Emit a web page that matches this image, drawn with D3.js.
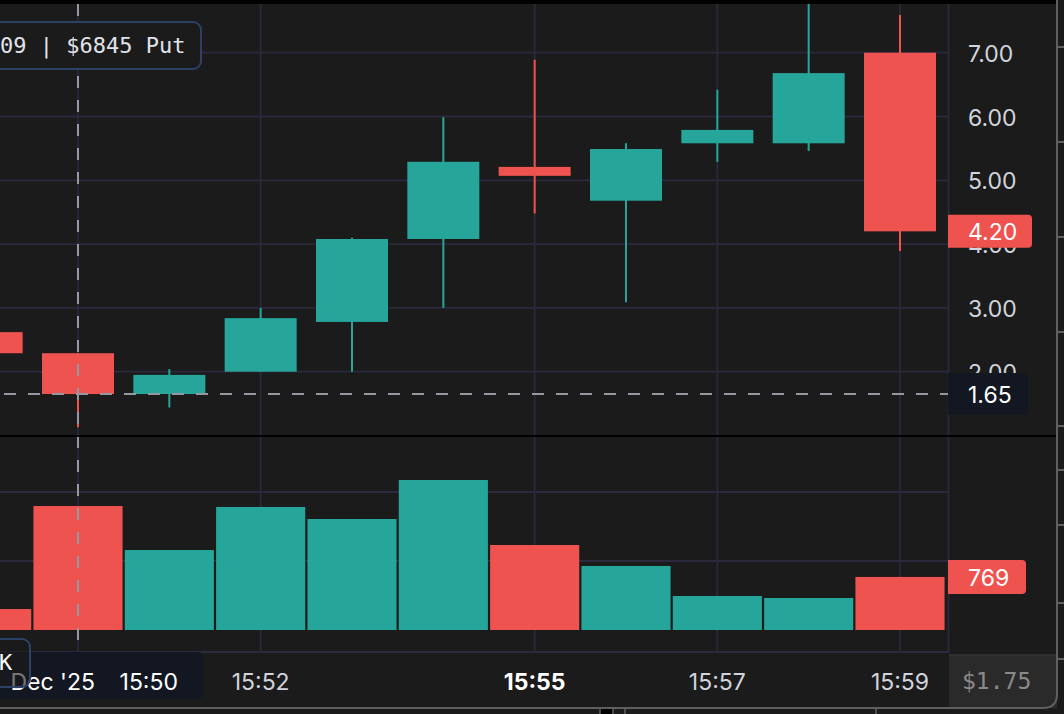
<!DOCTYPE html>
<html>
<head>
<meta charset="utf-8">
<script src="https://cdn.jsdelivr.net/npm/d3@7"></script>
<style>
  html, body { margin: 0; padding: 0; background: #1b1b1b; }
  svg { display: block; }
</style>
</head>
<body>
<svg id="chart" width="1064" height="714"></svg>
<script>
// ---------------- DATA ----------------
const times   = ["15:49","15:50","15:51","15:52","15:53","15:54","15:55","15:56","15:57","15:58","15:59"];
const opens   = [2.62, 2.29, 1.65, 2.00, 2.78, 4.08, 5.21, 4.68, 5.58, 5.58, 7.00];
const highs   = [2.70, 2.29, 2.04, 3.00, 4.10, 5.99, 6.89, 5.58, 6.42, 7.80, 7.59];
const lows    = [2.20, 1.13, 1.44, 2.00, 2.00, 3.00, 4.48, 3.09, 5.29, 5.46, 3.89];
const closes  = [2.29, 1.65, 1.95, 2.84, 4.08, 5.29, 5.07, 5.49, 5.79, 6.68, 4.20];
const volumes = [304, 1797, 1159, 1783, 1609, 2174, 1232, 928, 493, 464, 769];

const priceTicks  = [2, 3, 4, 5, 6, 7];
const volumeTicks = [1000, 2000];
const timeTicks   = ["15:50","15:52","15:55","15:57","15:59"];
const boldTimeTick = "15:55";

const crosshairTime  = "15:50";
const crosshairPrice = 1.65;
const lastPriceLabel = "4.20";
const lastVolumeLabel = "769";
const legendText = "09 | $6845 Put";
const crosshairDate = "Dec '25";
const cornerText = "$1.75";

// ---------------- SETUP ----------------
const UP = "#26a69a", DOWN = "#ef5350";
const GRID = "#2a293d";
const BG = "#1b1b1b";
const AXIS_TXT = "#d1d4dc";
const SANS = "Inter, Roboto, 'Noto Sans', sans-serif";
const MONO = "'DejaVu Sans Mono', 'Liberation Mono', monospace";

const parse = d3.timeParse("%H:%M");
const data = times.map((t, i) => ({
  t: parse(t), o: opens[i], h: highs[i], l: lows[i], c: closes[i], v: volumes[i]
}));

const plotRight = 948;
const priceTop = 4, priceBottom = 435;
const volTop = 437, volBottom = 652;

const x = d3.scaleTime()
  .domain([parse("15:50"), parse("15:59")])
  .range([78, 900]);
const step = x(parse("15:51")) - x(parse("15:50"));
const bodyW = 72;
const volW = step - 2.2;

const y = d3.scaleLinear().domain([2, 7]).range([371.7, 52.7]);
const yv = d3.scaleLinear().domain([0, 1000]).range([630, 561]);

const svg = d3.select("#chart");
svg.append("rect").attr("width", 1064).attr("height", 714).attr("fill", BG);

const defs = svg.append("defs");
defs.append("clipPath").attr("id", "clipPrice").append("rect")
  .attr("x", 0).attr("y", priceTop).attr("width", plotRight).attr("height", priceBottom - priceTop);
defs.append("clipPath").attr("id", "clipVol").append("rect")
  .attr("x", 0).attr("y", volTop).attr("width", plotRight).attr("height", volBottom - volTop);

// ---------------- GRID ----------------
const grid = svg.append("g").attr("stroke", GRID).attr("stroke-width", 1.8);
grid.selectAll(".hp").data(priceTicks).join("line")
  .attr("x1", 0).attr("x2", plotRight)
  .attr("y1", d => y(d)).attr("y2", d => y(d));
grid.selectAll(".hv").data(volumeTicks).join("line")
  .attr("x1", 0).attr("x2", plotRight)
  .attr("y1", d => yv(d)).attr("y2", d => yv(d));
grid.selectAll(".vp").data(timeTicks).join("line")
  .attr("x1", d => x(parse(d))).attr("x2", d => x(parse(d)))
  .attr("y1", priceTop).attr("y2", volBottom);
grid.append("line").attr("x1", plotRight + 0.5).attr("x2", plotRight + 0.5)
  .attr("y1", priceTop).attr("y2", volBottom);
grid.append("line").attr("x1", 0).attr("x2", plotRight + 1)
  .attr("y1", volBottom).attr("y2", volBottom);

// ---------------- CANDLES ----------------
const gp = svg.append("g").attr("clip-path", "url(#clipPrice)");
const candles = gp.selectAll(".c").data(data).join("g");
candles.append("line")
  .attr("x1", d => x(d.t)).attr("x2", d => x(d.t))
  .attr("y1", d => y(d.h)).attr("y2", d => y(d.l))
  .attr("stroke", d => d.c >= d.o ? UP : DOWN).attr("stroke-width", 2);
candles.append("rect")
  .attr("x", d => x(d.t) - bodyW / 2).attr("width", bodyW)
  .attr("y", d => y(Math.max(d.o, d.c)))
  .attr("height", d => Math.max(1, Math.abs(y(d.o) - y(d.c))))
  .attr("fill", d => d.c >= d.o ? UP : DOWN);

// ---------------- VOLUME ----------------
const gv = svg.append("g").attr("clip-path", "url(#clipVol)");
gv.selectAll("rect").data(data).join("rect")
  .attr("x", d => x(d.t) - volW / 2).attr("width", volW)
  .attr("y", d => yv(d.v)).attr("height", d => yv(0) - yv(d.v))
  .attr("fill", d => d.c >= d.o ? UP : DOWN);

// ---------------- CROSSHAIR ----------------
const cx = x(parse(crosshairTime));
svg.append("line").attr("x1", cx).attr("x2", cx).attr("y1", priceTop).attr("y2", volBottom)
  .attr("stroke", "#9598a1").attr("stroke-width", 2).attr("stroke-dasharray", "12,12");
const cy = y(crosshairPrice);
svg.append("line").attr("x1", 4).attr("x2", plotRight).attr("y1", cy).attr("y2", cy)
  .attr("stroke", "#9598a1").attr("stroke-width", 2).attr("stroke-dasharray", "12,12");

// ---------------- PRICE AXIS ----------------
const fmt = d3.format(".2f");
svg.append("g").selectAll("text").data(priceTicks).join("text")
  .attr("x", 968).attr("y", d => y(d) + 9)
  .attr("fill", AXIS_TXT).attr("font-family", SANS).attr("font-size", 23)
  .text(d => fmt(d));

function rightRounded(x0, y0, w, h, r) {
  return `M${x0},${y0} H${x0 + w - r} Q${x0 + w},${y0} ${x0 + w},${y0 + r} V${y0 + h - r} Q${x0 + w},${y0 + h} ${x0 + w - r},${y0 + h} H${x0} Z`;
}
function tag(yc, w, h, fill, label, color) {
  svg.append("path").attr("d", rightRounded(plotRight, yc - h / 2, w, h, 4)).attr("fill", fill);
  svg.append("text").attr("x", 968).attr("y", yc + 9)
    .attr("fill", color).attr("font-family", SANS).attr("font-size", 23).text(label);
}
tag(y(closes[closes.length - 1]), 84, 33, DOWN, lastPriceLabel, "#ffffff");
tag(cy, 80, 42, "#131722", fmt(crosshairPrice), "#ffffff");
tag(yv(volumes[volumes.length - 1]), 78, 34, DOWN, lastVolumeLabel, "#ffffff");

// ---------------- TIME AXIS ----------------
svg.append("g").selectAll("text").data(timeTicks.filter(t => t !== crosshairTime)).join("text")
  .attr("x", d => x(parse(d))).attr("y", 690)
  .attr("text-anchor", "middle")
  .attr("fill", d => d === boldTimeTick ? "#ffffff" : AXIS_TXT)
  .attr("font-weight", d => d === boldTimeTick ? 700 : 400)
  .attr("font-family", SANS).attr("font-size", 23)
  .text(d => d);

// crosshair time label
svg.append("path").attr("d", rightRounded(-10, 652, 213, 47, 6)).attr("fill", "#131722");
svg.append("text").attr("x", 95).attr("y", 690).attr("text-anchor", "end")
  .attr("fill", "#ffffff").attr("font-family", SANS).attr("font-size", 23).text(crosshairDate);
svg.append("text").attr("x", 178).attr("y", 690).attr("text-anchor", "end")
  .attr("fill", "#ffffff").attr("font-family", SANS).attr("font-size", 23).text(crosshairTime);

// corner box
svg.append("rect").attr("x", plotRight + 1).attr("y", 655).attr("width", 1057 - plotRight - 1).attr("height", 53)
  .attr("fill", "#2a2a2a");
svg.append("line").attr("x1", plotRight + 1).attr("x2", 1057).attr("y1", 655).attr("y2", 655)
  .attr("stroke", "#353535").attr("stroke-width", 1.5);
svg.append("text").attr("x", 962).attr("y", 689)
  .attr("fill", "#8a8a8a").attr("font-family", MONO).attr("font-size", 23).text(cornerText);

// ---------------- LEGEND BOXES ----------------
svg.append("rect").attr("x", -12).attr("y", 22).attr("width", 213).attr("height", 47).attr("rx", 8)
  .attr("fill", BG).attr("stroke", "#2b4166").attr("stroke-width", 2);
svg.append("text").attr("x", 0).attr("y", 53)
  .attr("fill", "#e0e3eb").attr("font-family", MONO).attr("font-size", 22).text(legendText);

svg.append("rect").attr("x", -12).attr("y", 639).attr("width", 42).attr("height", 48).attr("rx", 8)
  .attr("fill", BG).attr("fill-opacity", 0.6).attr("stroke", "#2b4166").attr("stroke-width", 2);
svg.append("text").attr("x", -1).attr("y", 670)
  .attr("fill", "#ffffff").attr("font-family", MONO).attr("font-size", 22).text("K");

// ---------------- FRAME ----------------
svg.append("rect").attr("x", 0).attr("y", 0).attr("width", 1056).attr("height", 4).attr("fill", "#000");
svg.append("rect").attr("x", 0).attr("y", 435).attr("width", 1056).attr("height", 2).attr("fill", "#000");
svg.append("path").attr("d", "M1057,0 V694 Q1057,708 1043,708 H0")
  .attr("fill", "none").attr("stroke", "#5f5f5f").attr("stroke-width", 2);
const sideTicks = [47, 142, 237, 332, 426, 470, 525, 603, 659];
svg.append("g").selectAll("line").data(sideTicks).join("line")
  .attr("x1", 1058).attr("x2", 1064).attr("y1", d => d).attr("y2", d => d)
  .attr("stroke", "#5f5f5f").attr("stroke-width", 2);
svg.append("rect").attr("x", 600).attr("y", 709).attr("width", 13).attr("height", 5).attr("fill", "#000");
[600, 613, 625, 876].forEach(px => {
  svg.append("line").attr("x1", px).attr("x2", px).attr("y1", 709).attr("y2", 714)
    .attr("stroke", "#5f5f5f").attr("stroke-width", 1.5);
});
</script>
</body>
</html>
